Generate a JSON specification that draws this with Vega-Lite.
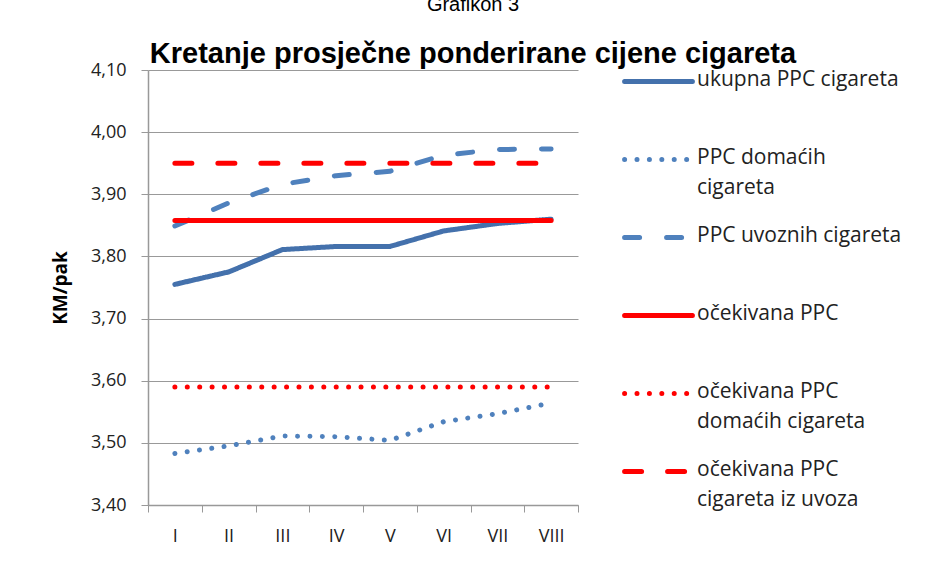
{
  "$schema": "https://vega.github.io/schema/vega-lite/v6.json",
  "width": 430,
  "height": 435,
  "autosize": {"type": "none"},
  "padding": {"left": 148, "top": 70, "right": 353, "bottom": 60},
  "background": "white",
  "title": {
    "text": "Grafikon 3",
    "subtitle": "Kretanje prosječne ponderirane cijene cigareta",
    "anchor": "middle",
    "frame": "group",
    "dx": 110,
    "offset": -24,
    "font": "Liberation Sans",
    "fontSize": 20,
    "fontWeight": "normal",
    "color": "black",
    "subtitleFont": "Liberation Sans",
    "subtitleFontSize": 29,
    "subtitleFontWeight": "bold",
    "subtitleColor": "black",
    "subtitlePadding": 25
  },
  "data": {
    "values": [
      {"m": "I", "s": "ukupna PPC cigareta", "v": 3.755},
      {"m": "II", "s": "ukupna PPC cigareta", "v": 3.775},
      {"m": "III", "s": "ukupna PPC cigareta", "v": 3.811},
      {"m": "IV", "s": "ukupna PPC cigareta", "v": 3.816},
      {"m": "V", "s": "ukupna PPC cigareta", "v": 3.816},
      {"m": "VI", "s": "ukupna PPC cigareta", "v": 3.841},
      {"m": "VII", "s": "ukupna PPC cigareta", "v": 3.853},
      {"m": "VIII", "s": "ukupna PPC cigareta", "v": 3.860},
      {"m": "I", "s": "PPC domaćih cigareta", "v": 3.483},
      {"m": "II", "s": "PPC domaćih cigareta", "v": 3.495},
      {"m": "III", "s": "PPC domaćih cigareta", "v": 3.511},
      {"m": "IV", "s": "PPC domaćih cigareta", "v": 3.510},
      {"m": "V", "s": "PPC domaćih cigareta", "v": 3.504},
      {"m": "VI", "s": "PPC domaćih cigareta", "v": 3.534},
      {"m": "VII", "s": "PPC domaćih cigareta", "v": 3.547},
      {"m": "VIII", "s": "PPC domaćih cigareta", "v": 3.564},
      {"m": "I", "s": "PPC uvoznih cigareta", "v": 3.849},
      {"m": "II", "s": "PPC uvoznih cigareta", "v": 3.886},
      {"m": "III", "s": "PPC uvoznih cigareta", "v": 3.916},
      {"m": "IV", "s": "PPC uvoznih cigareta", "v": 3.930},
      {"m": "V", "s": "PPC uvoznih cigareta", "v": 3.937},
      {"m": "VI", "s": "PPC uvoznih cigareta", "v": 3.963},
      {"m": "VII", "s": "PPC uvoznih cigareta", "v": 3.972},
      {"m": "VIII", "s": "PPC uvoznih cigareta", "v": 3.973},
      {"m": "I", "s": "očekivana PPC", "v": 3.858},
      {"m": "II", "s": "očekivana PPC", "v": 3.858},
      {"m": "III", "s": "očekivana PPC", "v": 3.858},
      {"m": "IV", "s": "očekivana PPC", "v": 3.858},
      {"m": "V", "s": "očekivana PPC", "v": 3.858},
      {"m": "VI", "s": "očekivana PPC", "v": 3.858},
      {"m": "VII", "s": "očekivana PPC", "v": 3.858},
      {"m": "VIII", "s": "očekivana PPC", "v": 3.858},
      {"m": "I", "s": "očekivana PPC domaćih cigareta", "v": 3.59},
      {"m": "II", "s": "očekivana PPC domaćih cigareta", "v": 3.59},
      {"m": "III", "s": "očekivana PPC domaćih cigareta", "v": 3.59},
      {"m": "IV", "s": "očekivana PPC domaćih cigareta", "v": 3.59},
      {"m": "V", "s": "očekivana PPC domaćih cigareta", "v": 3.59},
      {"m": "VI", "s": "očekivana PPC domaćih cigareta", "v": 3.59},
      {"m": "VII", "s": "očekivana PPC domaćih cigareta", "v": 3.59},
      {"m": "VIII", "s": "očekivana PPC domaćih cigareta", "v": 3.59},
      {"m": "I", "s": "očekivana PPC cigareta iz uvoza", "v": 3.95},
      {"m": "II", "s": "očekivana PPC cigareta iz uvoza", "v": 3.95},
      {"m": "III", "s": "očekivana PPC cigareta iz uvoza", "v": 3.95},
      {"m": "IV", "s": "očekivana PPC cigareta iz uvoza", "v": 3.95},
      {"m": "V", "s": "očekivana PPC cigareta iz uvoza", "v": 3.95},
      {"m": "VI", "s": "očekivana PPC cigareta iz uvoza", "v": 3.95},
      {"m": "VII", "s": "očekivana PPC cigareta iz uvoza", "v": 3.95},
      {"m": "VIII", "s": "očekivana PPC cigareta iz uvoza", "v": 3.95}
    ]
  },
  "mark": {"type": "line", "strokeCap": "round", "strokeJoin": "round"},
  "encoding": {
    "x": {
      "field": "m",
      "type": "ordinal",
      "sort": ["I", "II", "III", "IV", "V", "VI", "VII", "VIII"],
      "bandPosition": 0.5,
      "scale": {"type": "band", "paddingInner": 0, "paddingOuter": 0},
      "axis": {
        "title": null,
        "tickBand": "extent",
        "labelAngle": 0,
        "labelFont": "Open Sans",
        "labelFontSize": 18,
        "labelColor": "#222222",
        "labelPadding": 15,
        "tickSize": 7,
        "tickColor": "#999999",
        "domainColor": "#999999",
        "domainWidth": 1.5,
        "grid": false
      }
    },
    "y": {
      "field": "v",
      "type": "quantitative",
      "scale": {"domain": [3.4, 4.1], "nice": false, "zero": false},
      "axis": {
        "title": "KM/pak",
        "titleFont": "Open Sans",
        "titleFontSize": 19,
        "titleFontWeight": "bold",
        "titleColor": "black",
        "titlePadding": 20,
        "values": [3.4, 3.5, 3.6, 3.7, 3.8, 3.9, 4.0, 4.1],
        "labelExpr": "replace(format(datum.value, '.2f'), '.', ',')",
        "labelFont": "Open Sans",
        "labelFontSize": 18,
        "labelColor": "#222222",
        "labelPadding": 15,
        "tickSize": 7,
        "tickColor": "#999999",
        "domainColor": "#999999",
        "domainWidth": 1.5,
        "gridColor": "#999999",
        "gridWidth": 1.2
      }
    },
    "color": {
      "field": "s",
      "type": "nominal",
      "scale": {
        "domain": ["ukupna PPC cigareta", "PPC domaćih cigareta", "PPC uvoznih cigareta", "očekivana PPC", "očekivana PPC domaćih cigareta", "očekivana PPC cigareta iz uvoza"],
        "range": ["#4471AC", "#4F81BD", "#4F81BD", "#FF0000", "#FF0000", "#FF0000"]
      },
      "legend": {
        "title": null,
        "orient": "none",
        "legendX": 474,
        "legendY": -25,
        "symbolType": "stroke",
        "symbolSize": 4600,
        "labelFont": "Open Sans",
        "labelFontSize": 21,
        "labelColor": "#222222",
        "labelLimit": 300,
        "labelOffset": 2,
        "labelBaseline": "top",
        "labelExpr": "datum.label == 'PPC domaćih cigareta' ? ['PPC domaćih', 'cigareta'] : datum.label == 'očekivana PPC domaćih cigareta' ? ['očekivana PPC', 'domaćih cigareta'] : datum.label == 'očekivana PPC cigareta iz uvoza' ? ['očekivana PPC', 'cigareta iz uvoza'] : datum.label",
        "gridAlign": "all",
        "rowPadding": 3,
        "encode": {
          "symbols": {"update": {"strokeCap": {"value": "round"}}},
          "labels": {"update": {"lineHeight": {"value": 30}, "dy": {"value": -13}}}
        }
      }
    },
    "strokeDash": {
      "field": "s",
      "type": "nominal",
      "scale": {
        "domain": ["ukupna PPC cigareta", "PPC domaćih cigareta", "PPC uvoznih cigareta", "očekivana PPC", "očekivana PPC domaćih cigareta", "očekivana PPC cigareta iz uvoza"],
        "range": [[1, 0], [0.01, 12.4], [15, 27], [1, 0], [0.01, 12.4], [17, 26]]
      },
      "legend": null
    },
    "strokeWidth": {
      "field": "s",
      "type": "nominal",
      "scale": {
        "domain": ["ukupna PPC cigareta", "PPC domaćih cigareta", "PPC uvoznih cigareta", "očekivana PPC", "očekivana PPC domaćih cigareta", "očekivana PPC cigareta iz uvoza"],
        "range": [5, 5, 5, 6, 6, 6]
      },
      "legend": null
    }
  },
  "config": {
    "view": {"stroke": null}
  }
}
